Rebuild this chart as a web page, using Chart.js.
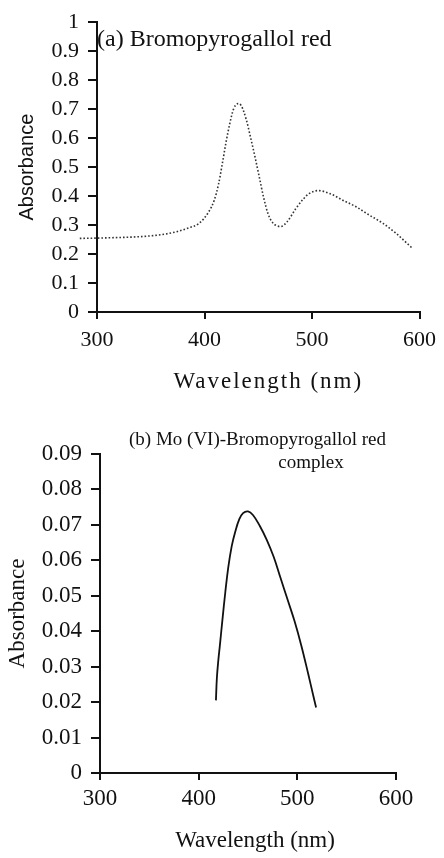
<!DOCTYPE html>
<html>
<head>
<meta charset="utf-8">
<script src="https://cdn.jsdelivr.net/npm/chart.js@4/dist/chart.umd.min.js"></script>
<style>
  html, body { margin: 0; padding: 0; background: #fff; }
  .panel { position: relative; width: 444px; }
  canvas { display: block; }
</style>
</head>
<body>
<div class="panel"><canvas id="chartA" width="444" height="400"></canvas></div>
<div class="panel"><canvas id="chartB" width="444" height="458"></canvas></div>
<script>
// ---------- Data ----------
const titleA = '(a) Bromopyrogallol red';
const titleB1 = '(b) Mo (VI)-Bromopyrogallol red';
const titleB2 = 'complex';
const xAxisTitle = 'Wavelength (nm)';
const yAxisTitle = 'Absorbance';

const xTicks = [300, 400, 500, 600];
const xTickLabels = ['300', '400', '500', '600'];

const yTicksA = [0, 0.1, 0.2, 0.3, 0.4, 0.5, 0.6, 0.7, 0.8, 0.9, 1];
const yTickLabelsA = ['0', '0.1', '0.2', '0.3', '0.4', '0.5', '0.6', '0.7', '0.8', '0.9', '1'];

const yTicksB = [0, 0.01, 0.02, 0.03, 0.04, 0.05, 0.06, 0.07, 0.08, 0.09];
const yTickLabelsB = ['0', '0.01', '0.02', '0.03', '0.04', '0.05', '0.06', '0.07', '0.08', '0.09'];

// (a) Bromopyrogallol red spectrum
const wavelengthA = [284, 300, 320, 340, 360, 375, 385, 395, 404, 409, 413, 416.5, 420, 423.5, 427, 431, 434, 439, 443, 447, 451, 455, 459, 463, 467, 471, 477, 485, 492, 497, 506, 517, 529, 541, 553, 566, 578, 593];
const absorbanceA = [0.254, 0.255, 0.257, 0.26, 0.267, 0.278, 0.29, 0.306, 0.346, 0.385, 0.44, 0.51, 0.585, 0.65, 0.70, 0.719, 0.713, 0.662, 0.60, 0.535, 0.465, 0.395, 0.34, 0.31, 0.298, 0.295, 0.312, 0.357, 0.39, 0.408, 0.419, 0.408, 0.385, 0.363, 0.335, 0.306, 0.272, 0.221];

// (b) Mo(VI)-Bromopyrogallol red complex spectrum
const wavelengthB = [417.5, 418.5, 420, 421.5, 424, 427, 430, 433.5, 437, 441, 445, 450, 455, 462, 469, 476, 483, 490, 497, 504, 511, 516, 519];
const absorbanceB = [0.0205, 0.027, 0.032, 0.036, 0.043, 0.051, 0.058, 0.064, 0.068, 0.0715, 0.0733, 0.0738, 0.0728, 0.0697, 0.0658, 0.061, 0.055, 0.049, 0.043, 0.036, 0.028, 0.022, 0.0185];

// ---------- Helpers ----------
const SERIF = '"Liberation Serif", "Times New Roman", "DejaVu Serif", serif';
const SANS = '"Liberation Sans", Arial, sans-serif';
const INK = '#111';

const toPoints = (xs, ys) => xs.map((x, i) => ({ x: x, y: ys[i] }));

const panelTitle = {
  id: 'panelTitle',
  afterDraw(chart, args, opts) {
    const { ctx, chartArea } = chart;
    ctx.save();
    ctx.fillStyle = INK;
    ctx.textBaseline = 'middle';
    (opts.lines || []).forEach(l => {
      ctx.font = l.font;
      ctx.textAlign = l.align;
      ctx.fillText(l.text, chartArea.left + l.dx, chartArea.top + l.dy);
    });
    ctx.restore();
  }
};

const axisTitleTweak = {
  id: 'axisTitleTweak',
  beforeDraw(chart, args, opts) {
    const s = chart.scales.x;
    if (s && !s.__wrapped) {
      const orig = s.drawTitle;
      s.drawTitle = function () {
        const ctx = this.ctx;
        ctx.save();
        ctx.translate(opts.dx || 0, 0);
        if (opts.letterSpacing) ctx.letterSpacing = opts.letterSpacing;
        orig.call(this);
        ctx.restore();
      };
      s.__wrapped = true;
    }
  }
};

function makeChart(id, cfg) {
  return new Chart(document.getElementById(id), {
    type: 'line',
    data: {
      datasets: [{
        data: toPoints(cfg.xs, cfg.ys),
        borderColor: cfg.lineColor,
        borderWidth: cfg.lineWidth,
        borderDash: cfg.dash,
        pointRadius: 0,
        fill: false,
        cubicInterpolationMode: cfg.interp,
        tension: 0.4,
        clip: false
      }]
    },
    options: {
      responsive: false,
      animation: false,
      devicePixelRatio: 1,
      layout: { padding: cfg.padding },
      plugins: {
        legend: { display: false },
        tooltip: { enabled: false },
        title: { display: false },
        panelTitle: { lines: cfg.titles },
        axisTitleTweak: cfg.xTitleTweak
      },
      scales: {
        x: {
          type: 'linear',
          min: 300, max: 600,
          afterFit: s => { s.height = cfg.xAxisHeight; },
          afterBuildTicks: s => { s.ticks = xTicks.map(v => ({ value: v })); },
          ticks: {
            callback: (v, i) => xTickLabels[i],
            color: INK,
            padding: cfg.xTickPad,
            autoSkip: false,
            maxRotation: 0,
            font: { family: SERIF, size: cfg.xTickSize }
          },
          grid: { drawOnChartArea: false, drawTicks: true, tickLength: 7, color: INK, lineWidth: 2 },
          border: { display: true, color: INK, width: 2 },
          title: {
            display: true, text: xAxisTitle, color: INK,
            font: { family: SERIF, size: cfg.xTitleSize },
            padding: { top: 0, bottom: cfg.xTitlePad }
          }
        },
        y: {
          type: 'linear',
          min: cfg.yTicks[0], max: cfg.yTicks[cfg.yTicks.length - 1],
          afterFit: s => { s.width = cfg.yAxisWidth; },
          afterBuildTicks: s => { s.ticks = cfg.yTicks.map(v => ({ value: v })); },
          ticks: {
            callback: (v, i) => cfg.yLabels[i],
            color: INK,
            padding: 9,
            autoSkip: false,
            font: { family: SERIF, size: cfg.yTickSize }
          },
          grid: { drawOnChartArea: false, drawTicks: true, tickLength: 9, color: INK, lineWidth: 2 },
          border: { display: true, color: INK, width: 2 },
          title: {
            display: true, text: yAxisTitle, color: INK,
            font: { family: cfg.yTitleFamily, size: cfg.yTitleSize },
            padding: { top: cfg.yTitlePad, bottom: 0 }
          }
        }
      }
    },
    plugins: [panelTitle, axisTitleTweak]
  });
}

makeChart('chartA', {
  xs: wavelengthA, ys: absorbanceA,
  lineColor: '#333', lineWidth: 1.6, dash: [1.6, 2], interp: 'monotone',
  padding: { left: 0, right: 20, top: 17, bottom: 0 },
  xAxisHeight: 88, yAxisWidth: 97,
  xTickSize: 22, xTickPad: 8,
  xTitleSize: 23, xTitlePad: 4,
  xTitleTweak: { dx: 10, letterSpacing: '2px' },
  yTicks: yTicksA, yLabels: yTickLabelsA, yTickSize: 22,
  yTitleFamily: SANS, yTitleSize: 20, yTitlePad: 15,
  titles: [
    { text: titleA, font: '24px ' + SERIF, align: 'left', dx: 0, dy: 18 }
  ]
});

makeChart('chartB', {
  xs: wavelengthB, ys: absorbanceB,
  lineColor: '#111', lineWidth: 1.8, dash: [], interp: 'default',
  padding: { left: 0, right: 48, top: 54, bottom: 0 },
  xAxisHeight: 85, yAxisWidth: 100,
  xTickSize: 23, xTickPad: 5,
  xTitleSize: 23, xTitlePad: 3,
  xTitleTweak: { dx: 7 },
  yTicks: yTicksB, yLabels: yTickLabelsB, yTickSize: 23,
  yTitleFamily: SERIF, yTitleSize: 23, yTitlePad: 4,
  titles: [
    { text: titleB1, font: '19px ' + SERIF, align: 'center', dx: 157.5, dy: -14 },
    { text: titleB2, font: '19px ' + SERIF, align: 'center', dx: 211, dy: 9 }
  ]
});
</script>
</body>
</html>
